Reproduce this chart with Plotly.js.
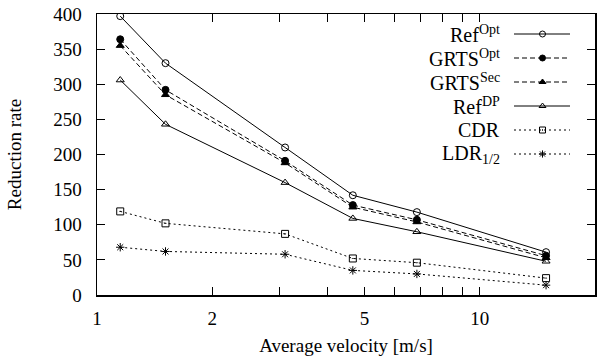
<!DOCTYPE html>
<html><head><meta charset="utf-8">
<script src="https://cdn.plot.ly/plotly-3.0.1.min.js"></script>
<style>html,body{margin:0;padding:0;background:#fff}#chart{width:603px;height:358px}</style>
</head><body><div id="chart"></div>
<script>
// ---- data ----
const velocity = [1.15, 1.51, 3.1, 4.66, 6.85, 14.9];
const refOpt  = [397, 330, 210, 142, 118, 61];
const grtsOpt = [364, 292, 191, 128, 107, 56];
const grtsSec = [355, 285, 188, 125, 104, 53];
const refDP   = [306, 243, 160, 109, 90, 48];
const cdr     = [119, 102, 87, 52, 46, 24];
const ldr     = [68, 62, 58, 35, 30, 14];
const seriesNames = ['Ref<sup>Opt</sup>', 'GRTS<sup>Opt</sup>', 'GRTS<sup>Sec</sup>', 'Ref<sup>DP</sup>', 'CDR', 'LDR<sub>1/2</sub>'];
const xTickVals = [1, 2, 3, 4, 5, 6, 7, 8, 9, 10, 20];
const xTickText = ['1', '2', '', '', '5', '', '', '', '', '10', '20'];
const yTickVals = [0, 50, 100, 150, 200, 250, 300, 350, 400];

// ---- styles ----
const seriesData = [refOpt, grtsOpt, grtsSec, refDP, cdr, ldr];
const dashes = ['solid', '5px,3px', '5px,3px', 'solid', '2px,3px', '2px,3px'];
const symbols = ['circle-open', 'circle', 'triangle-up', 'triangle-up-open', 'square-open-dot', 'asterisk-open'];
const FONT = 'Liberation Serif';
const axFont = {family: FONT, size: 19, color: '#000'};

const traces = [];
seriesData.forEach((ys, i) => {
  traces.push({
    x: velocity, y: ys, type: 'scatter', mode: 'lines+markers', name: seriesNames[i],
    line: {color: '#000', width: 1, dash: dashes[i]},
    marker: {symbol: symbols[i], size: 7, color: '#000', line: {color: '#000', width: 1}},
    showlegend: false, hoverinfo: 'skip'
  });
});

// ---- custom gnuplot-style key (text right, sample left) ----
const keyTop = (295 - 34) / 281, keyStep = 24 / 281;
const keyTextX = (502 - 97) / 498;
const keyX = [(514 - 97) / 498, (542.5 - 97) / 498, (570 - 97) / 498];
const annotations = [];
seriesData.forEach((ys, i) => {
  const yy = keyTop - i * keyStep;
  traces.push({
    x: keyX, y: [yy, yy, yy], xaxis: 'x2', yaxis: 'y2', type: 'scatter', mode: 'lines+markers',
    line: {color: '#000', width: 1, dash: dashes[i]},
    marker: {symbol: symbols[i], size: 6, color: '#000', opacity: [0, 1, 0], line: {color: '#000', width: 1}},
    showlegend: false, hoverinfo: 'skip'
  });
  annotations.push({
    xref: 'paper', yref: 'paper', x: keyTextX, y: yy, xanchor: 'right', yanchor: 'middle',
    text: seriesNames[i], showarrow: false, font: {family: FONT, size: 20, color: '#000'}
  });
});

const layout = {
  width: 603, height: 358,
  margin: {l: 97, r: 8, t: 14, b: 63},
  paper_bgcolor: '#fff', plot_bgcolor: '#fff',
  font: {family: FONT, size: 19, color: '#000'},
  showlegend: false,
  xaxis: {
    type: 'log', range: [0, Math.log10(20)], tickmode: 'array', tickvals: xTickVals, ticktext: xTickText,
    tickfont: axFont,
    ticks: 'inside', ticklen: 8, tickwidth: 1, tickcolor: '#000',
    showline: true, linecolor: '#000', linewidth: 1.5, mirror: 'allticks',
    showgrid: false, zeroline: false, ticklabelstandoff: 6,
    title: {text: 'Average velocity [m/s]', font: axFont, standoff: 10}
  },
  yaxis: {
    range: [0, 400], tickmode: 'array', tickvals: yTickVals, tickfont: axFont,
    ticks: 'inside', ticklen: 8, tickwidth: 1, tickcolor: '#000',
    showline: true, linecolor: '#000', linewidth: 1.5, mirror: 'allticks',
    showgrid: false, zeroline: false, ticklabelstandoff: 10,
    title: {text: 'Reduction rate', font: axFont, standoff: 26}
  },
  xaxis2: {overlaying: 'x', range: [0, 1], visible: false, fixedrange: true},
  yaxis2: {overlaying: 'y', range: [0, 1], visible: false, fixedrange: true},
  annotations: annotations
};

Plotly.newPlot('chart', traces, layout, {displayModeBar: false, staticPlot: true});
</script>
</body></html>
